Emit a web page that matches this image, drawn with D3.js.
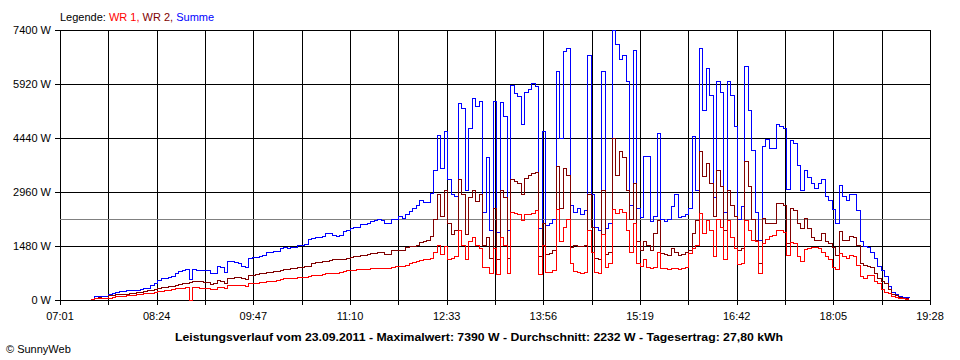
<!DOCTYPE html>
<html><head><meta charset="utf-8">
<script src="https://cdn.jsdelivr.net/npm/d3@7"></script>
<style>
html,body{margin:0;padding:0;background:#fff;}
svg text{font-family:"Liberation Sans",Arial,sans-serif;}
</style></head>
<body><svg id="c" width="960" height="360"></svg>
<script>
// ---- data ----
const startMinute = 448;   // 07:28, first sample
const stepMinutes = 3;     // sample interval
const yTickValues = [0, 1480, 2960, 4440, 5920, 7400];
const xTickMinutes = [421, 504, 587, 670, 753, 836, 919, 1002, 1085, 1168];
const xTickLabels = ["07:01","08:24","09:47","11:10","12:33","13:56","15:19","16:42","18:05","19:28"];
const average = 2232;
const seriesNames = ["WR 1", "WR 2", "Summe"];
const titleText = "Leistungsverlauf vom 23.09.2011 - Maximalwert: 7390 W - Durchschnitt: 2232 W - Tagesertrag: 27,80 kWh";

const summe = [
 20,90,95,90,85,155,190,205,220,240,
 270,272,256,256,280,311,311,411,440,548,
 576,590,610,640,731,790,810,830,560,830,
 822,822,815,810,713,740,913,880,760,1050,
 1050,1040,1000,920,900,1142,1169,1169,1200,1206,
 1297,1310,1320,1325,1400,1430,1420,1430,1443,1489,
 1489,1530,1650,1690,1717,1725,1736,1809,1827,1781,
 1754,1780,1870,1900,1964,1980,2000,2056,2070,2083,
 2165,2180,2193,2174,2101,2110,2193,2200,2284,2238,
 2357,2421,2520,2600,2740,2680,2670,2920,3560,4520,
 3600,4610,3300,2900,2830,5390,5250,3000,4700,5530,
 5300,5437,2400,3900,1900,5437,1850,5400,5030,1900,
 5890,5665,5570,4800,5690,5756,5940,5850,1950,4613,
 2050,2100,2200,6260,4430,6808,6900,2600,2400,2500,
 2350,2450,6700,2900,2000,1900,6260,1950,2100,7390,
 7000,6580,6700,6000,2600,6850,2500,2250,3930,3930,
 2150,2300,4570,2200,2150,2200,2550,2900,2250,2300,
 2350,2500,4480,3000,6900,5190,6350,5600,2800,5980,
 5700,2400,5980,5600,4750,2200,2555,6400,5200,4100,
 2400,1640,4200,4400,4150,4150,4800,4750,4700,3015,
 4385,4300,3700,3014,3540,3350,3200,3050,3200,3290,
 2830,2740,2470,2101,3150,2830,2740,2900,2880,2450,
 1600,1462,1440,1300,1140,913,822,640,365,200,
 150,100,80,70,60
];
const wr2 = [
 10,50,55,50,50,120,137,140,145,150,
 160,180,183,200,210,220,256,270,292,320,
 330,345,365,380,411,430,445,457,490,502,
 500,495,490,484,430,450,530,500,440,580,
 594,610,610,594,560,660,685,700,713,730,
 749,760,770,777,820,840,845,855,868,880,
 895,905,914,1000,1023,1035,1051,1060,1096,1100,
 1110,1115,1115,1150,1169,1180,1190,1206,1230,1252,
 1270,1285,1297,1297,1252,1260,1370,1370,1370,1352,
 1443,1480,1480,1500,1580,1600,1640,1736,2200,2900,
 2300,3000,2100,1800,1900,3300,2900,1800,2800,3000,
 2700,2900,1500,1700,1150,2500,1100,3000,2800,1150,
 3300,3250,3200,2890,3320,3400,3460,3500,1200,2100,
 1250,1280,1350,3650,2500,3600,3400,1450,1500,1480,
 1460,1500,2900,2000,1150,1120,3000,1250,1300,4430,
 3400,4065,3900,3000,2200,3200,1600,1370,1600,1500,
 1370,1830,2190,1280,1250,1230,1400,1300,1220,1250,
 1300,1370,1830,2190,4070,3380,3750,3200,2300,3560,
 3100,1900,3000,2600,2300,1370,1400,3790,3100,2200,
 1640,1000,2240,2100,2100,2100,2650,2650,2600,1553,
 2500,2450,2100,1950,2240,1950,1700,1620,1640,1830,
 1600,1560,1450,1230,1880,1640,1620,1736,1700,1500,
 1000,950,920,900,730,600,500,440,300,150,
 110,60,50,50,45
];
const wr1 = [
 10,35,35,35,30,50,70,85,91,100,
 110,119,125,140,155,165,180,190,200,228,
 240,255,274,290,305,320,325,330,0,338,
 330,325,320,320,292,300,347,345,320,393,
 393,395,405,395,360,440,457,460,470,485,
 502,510,520,530,550,576,580,590,600,612,
 612,625,640,660,675,685,695,713,713,720,
 731,750,780,795,810,822,830,835,840,845,
 860,868,868,868,868,870,895,905,914,920,
 959,987,1030,1060,1096,1110,1123,1150,1300,1500,
 1250,1480,1100,1150,1200,1900,1500,1100,1600,1700,
 1500,1400,900,900,720,1400,700,1700,1500,720,
 2400,2375,2330,2190,2330,2350,2375,2450,700,1500,
 750,760,800,2470,1600,2000,2200,1000,780,760,
 740,760,1900,1300,760,740,1800,900,1000,2470,
 2375,2470,2400,1900,1300,2100,1000,913,1100,900,
 870,900,1300,870,850,840,870,850,830,870,
 900,1280,1400,1500,2375,1830,2190,1900,1200,2200,
 2000,1100,2190,1700,1400,960,1000,2190,1900,1640,
 1600,730,1550,1650,1740,1760,1900,1900,1850,1230,
 1580,1550,1190,1050,1380,1420,1440,1430,1420,1300,
 1200,1100,900,830,1280,1200,1150,1230,1200,950,
 640,600,660,680,500,460,275,200,180,100,
 60,40,30,20,15
];

// ---- chart ----
const svg = d3.select("#c");
const L = 60, R = 930, T = 30, B = 300;
const x = d3.scaleLinear().domain([xTickMinutes[0], xTickMinutes[xTickMinutes.length-1]]).range([L, R]);
const y = d3.scaleLinear().domain([0, 7400]).range([B, T]);

svg.append("rect").attr("width",960).attr("height",360).attr("fill","#fff");

// grid
const minorTicks = [];
for (let k = 0; k < xTickMinutes.length; k++) {
  minorTicks.push(xTickMinutes[k]);
  if (k < xTickMinutes.length-1) minorTicks.push((xTickMinutes[k]+xTickMinutes[k+1])/2);
}
const g = svg.append("g").attr("shape-rendering","crispEdges");
g.selectAll("line.v").data(minorTicks).join("line")
  .attr("x1",d=>Math.round(x(d))+0.5).attr("x2",d=>Math.round(x(d))+0.5)
  .attr("y1",T).attr("y2",B+5).attr("stroke","#000");
g.selectAll("line.h").data(yTickValues).join("line")
  .attr("x1",L-5).attr("x2",R).attr("y1",d=>Math.round(y(d))+0.5).attr("y2",d=>Math.round(y(d))+0.5)
  .attr("stroke","#000");
g.append("line").attr("x1",L).attr("x2",R)
  .attr("y1",Math.round(y(average))+0.5).attr("y2",Math.round(y(average))+0.5)
  .attr("stroke","#808080");

// labels
svg.selectAll("text.yl").data(yTickValues).join("text")
  .attr("x",L-9).attr("y",d=>Math.round(y(d))+4).attr("text-anchor","end")
  .attr("font-size",11).attr("fill","#000").text(d=>d+" W");
svg.selectAll("text.xl").data(xTickMinutes).join("text")
  .attr("x",d=>x(d)).attr("y",320).attr("text-anchor","middle")
  .attr("font-size",11).attr("fill","#000").text((d,i)=>xTickLabels[i]);

// series
const times = d3.range(summe.length).map(i => startMinute + i*stepMinutes);
const line = d3.line().x((d,i)=>x(times[i])).y(d=>y(d)).curve(d3.curveStepAfter);
const colors = ["#ff0000","#800000","#0000ff"];
const plot = svg.append("g");
[[summe,colors[2]],[wr2,colors[1]],[wr1,colors[0]]].forEach(([arr,c])=>{
  plot.append("path").attr("d",line(arr)).attr("fill","none").attr("stroke",c)
    .attr("stroke-width",1).attr("shape-rendering","crispEdges");
});

// legend
const leg = svg.append("text").attr("x",60).attr("y",21).attr("font-size",11);
leg.append("tspan").attr("fill","#000").text("Legende: ");
leg.append("tspan").attr("fill",colors[0]).text(seriesNames[0]+", ");
leg.append("tspan").attr("fill",colors[1]).text(seriesNames[1]+", ");
leg.append("tspan").attr("fill",colors[2]).text(seriesNames[2]);

// title & footer
svg.append("text").attr("x",479).attr("y",341).attr("text-anchor","middle")
  .attr("font-size",11.5).attr("font-weight","bold").attr("fill","#000")
  .attr("textLength",608).attr("lengthAdjust","spacingAndGlyphs").text(titleText);
svg.append("text").attr("x",6).attr("y",353).attr("font-size",11).attr("fill","#000").text("\u00A9 SunnyWeb");
</script></body></html>
